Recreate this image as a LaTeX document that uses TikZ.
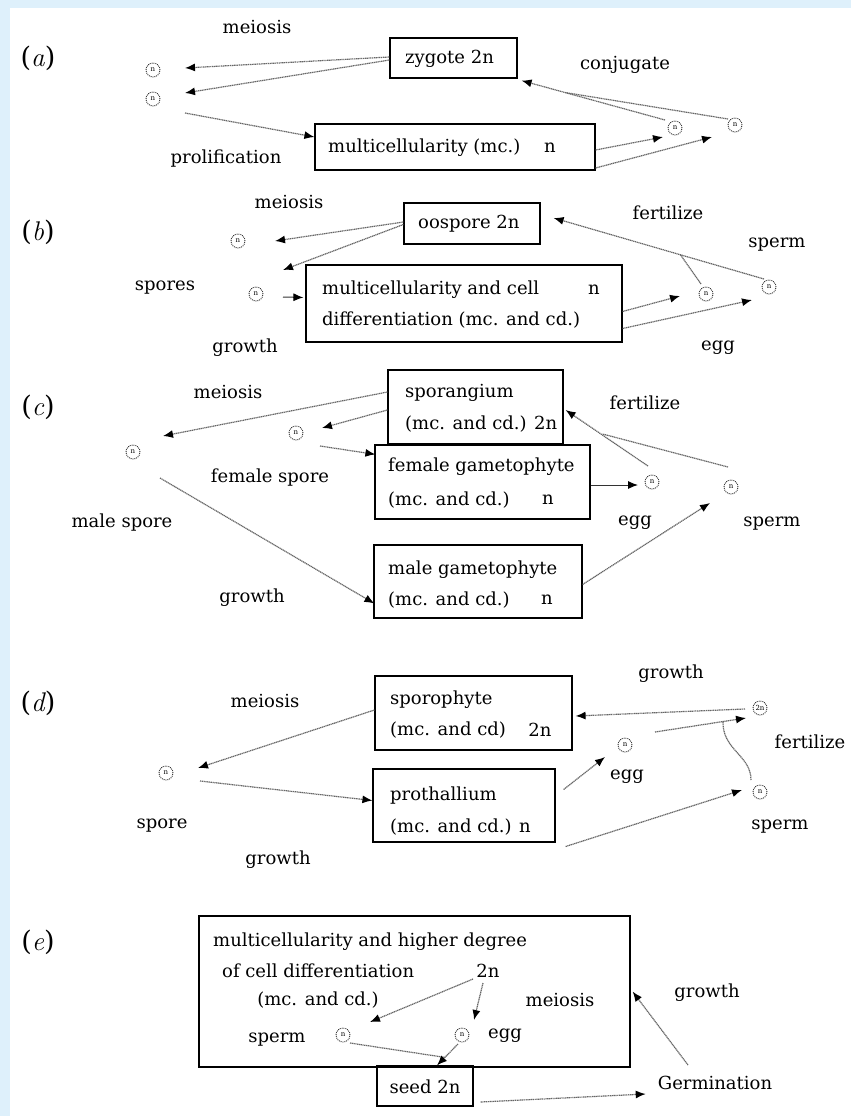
\documentclass[tikz,border=0pt]{standalone}
\usepackage{fontspec}
\setmainfont{DejaVu Serif}
\usetikzlibrary{arrows.meta,calc}
\definecolor{band}{RGB}{222,240,251}
\newcommand{\labit}[1]{{\fontfamily{lmr}\selectfont\itshape #1}}
\begin{document}
\begin{tikzpicture}[x=1pt,y=-1pt,
  lab/.style={font=\fontsize{18}{20}\selectfont, inner sep=0pt},
  sec/.style={font=\fontsize{27}{29}\selectfont, inner sep=0pt},
  box/.style={draw, line width=1.2pt, inner sep=0pt},
  cell/.style={circle, draw=black!85, densely dotted, line width=0.9pt, minimum size=14pt, inner sep=0pt, font=\fontsize{7}{7}\selectfont},
  conn/.style={line width=1.2pt, dash pattern=on 1.2pt off 0.6pt, draw=black!60},
  arr/.style={conn, -{Latex[length=10pt,width=8pt,color=black]}},
  solidarr/.style={line width=1pt, draw=black!80, -{Latex[length=10pt,width=8pt,color=black]}}]
\useasboundingbox (0,0) rectangle (851,1116);
\fill[white] (0,0) rectangle (851,1116);
\fill[band] (0,0) rectangle (851,8);
\fill[band] (0,0) rectangle (10,1116);

% ---------------- (a)
\node[sec] (la) at (38,58) {(\labit{a})};
\node[lab] (ma) at (257,27) {meiosis};
\node[box, minimum width=127pt, minimum height=40pt] (zyg) at (453.5,58) {};
\node[lab, anchor=west] (tzyg) at (405,59) {zygote 2n};
\node[lab] (conj) at (625,65) {conjugate};
\node[lab] (prol) at (226,159) {prolification};
\node[box, minimum width=280pt, minimum height=46pt] (mca) at (455,147) {};
\node[lab, anchor=west] (tmca) at (328,148) {multicellularity (mc.)};
\node[lab] (tmcan) at (550,148) {n};
\node[cell] (ca1) at (153,70) {n};
\node[cell] (ca2) at (153,99) {n};
\node[cell] (ca3) at (675,128) {n};
\node[cell] (ca4) at (735,125) {n};
\draw[arr] ([shift={(0,-1)}]zyg.west) -- ([shift={(32,-2)}]ca1.center);
\draw[arr] ([shift={(0,2)}]zyg.west) -- ([shift={(32,-6)}]ca2.center);
\draw[arr] ([shift={(32,14)}]ca2.center) -- ([shift={(0,-10)}]mca.west);
\draw[arr] ([shift={(0,3)}]mca.east) -- ([shift={(-12,9)}]ca3.center);
\draw[arr] ([shift={(0,21)}]mca.east) -- ([shift={(-23,12)}]ca4.center);
\draw[arr] ([shift={(-10,-8)}]ca3.center) -- ([shift={(4,2)}]zyg.south east);
\draw[conn] ([shift={(-7,-6)}]ca4.center) -- ([shift={(48,14)}]zyg.south east);

% ---------------- (b)
\node[sec] (lb) at (38,232) {(\labit{b})};
\node[lab] (mb) at (289,202) {meiosis};
\node[box, minimum width=136pt, minimum height=41pt] (oos) at (472,223.5) {};
\node[lab, anchor=west] (toos) at (418,224) {oospore 2n};
\node[lab] (fb) at (668,213) {fertilize};
\node[lab] (sb) at (777,245) {sperm};
\node[lab] (spb) at (165,288) {spores};
\node[lab] (gb) at (245,348) {growth};
\node[lab] (eb) at (718,348) {egg};
\node[box, minimum width=316pt, minimum height=77pt] (mcb) at (464,303.5) {};
\node[lab, anchor=west] (tmcb1) at (322,290) {multicellularity and cell};
\node[lab] (tmcbn) at (594,290) {n};
\node[lab, anchor=west] (tmcb2) at (322,320) {differentiation (mc. and cd.)};
\node[cell] (cb1) at (238,241) {n};
\node[cell] (cb2) at (256,294) {n};
\node[cell] (cb3) at (706,294) {n};
\node[cell] (cb4) at (769,287) {n};
\draw[arr] ([shift={(0,-1.5)}]oos.west) -- ([shift={(37,0)}]cb1.center);
\draw[arr] ([shift={(0,1)}]oos.west) -- ([shift={(27,-24)}]cb2.center);
\draw[solidarr] ([shift={(27,3)}]cb2.center) -- ([shift={(-2,-6)}]mcb.west);
\draw[arr] ([shift={(0,8)}]mcb.east) -- ([shift={(-26,2)}]cb3.center);
\draw[arr] ([shift={(0,25)}]mcb.east) -- ([shift={(-17,13)}]cb4.center);
\draw[arr] ([shift={(-5,-8)}]cb4.center) -- ([shift={(13,-5.5)}]oos.east);
\draw[conn] ([shift={(-5,-10)}]cb3.center) -- ([shift={(140,31.5)}]oos.east);

% ---------------- (c)
\node[sec] (lc) at (38,407) {(\labit{c})};
\node[lab] (mc) at (228,392) {meiosis};
\node[box, minimum width=175pt, minimum height=74pt] (spor) at (475.5,407) {};
\node[lab, anchor=west] (tspor1) at (405,393) {sporangium};
\node[lab, anchor=west] (tspor2) at (405,424) {(mc. and cd.) 2n};
\node[box, fill=white, minimum width=215pt, minimum height=74pt] (fem) at (482.5,482) {};
\node[lab, anchor=west] (tfem1) at (388,467) {female gametophyte};
\node[lab, anchor=west] (tfem2) at (388,500) {(mc. and cd.)};
\node[lab] (tfemn) at (548,500) {n};
\node[box, minimum width=208pt, minimum height=73pt] (male) at (478,581.5) {};
\node[lab, anchor=west] (tmale1) at (388,570) {male gametophyte};
\node[lab, anchor=west] (tmale2) at (388,600) {(mc. and cd.)};
\node[lab] (tmalen) at (547,600) {n};
\node[lab] (fc) at (645,403) {fertilize};
\node[lab] (fsp) at (270,478) {female spore};
\node[lab] (msp) at (122,523) {male spore};
\node[lab] (ec) at (635,523) {egg};
\node[lab] (sc) at (772,524) {sperm};
\node[lab] (gc) at (252,598) {growth};
\node[cell] (cc1) at (133,452) {n};
\node[cell] (cc2) at (296,433) {n};
\node[cell] (cc3) at (652,482) {n};
\node[cell] (cc4) at (731,487) {n};
\draw[arr] ([shift={(0,-15)}]spor.west) -- ([shift={(30,-16)}]cc1.center);
\draw[arr] ([shift={(0,3)}]spor.west) -- ([shift={(26,-5)}]cc2.center);
\draw[arr] ([shift={(24,13)}]cc2.center) -- ([shift={(1,10)}]fem.north west);
\draw[solidarr] ([shift={(0,3)}]fem.east) -- ([shift={(-14,3)}]cc3.center);
\draw[arr] ([shift={(-4,-16)}]cc3.center) -- ([shift={(2,3)}]spor.east);
\draw[conn] ([shift={(-3,-20)}]cc4.center) -- ([shift={(39,27)}]spor.east);
\draw[arr] ([shift={(27,26)}]cc1.center) -- ([shift={(1,22)}]male.west);
\draw[arr] ([shift={(0,3)}]male.east) -- ([shift={(-21,16)}]cc4.center);

% ---------------- (d)
\node[sec] (ld) at (38,703) {(\labit{d})};
\node[lab] (md) at (265,701) {meiosis};
\node[box, minimum width=197pt, minimum height=74pt] (sph) at (473.5,713) {};
\node[lab, anchor=west] (tsph1) at (390,700) {sporophyte};
\node[lab, anchor=west] (tsph2) at (390,730) {(mc. and cd)};
\node[lab] (tsphn) at (540,730) {2n};
\node[box, minimum width=182pt, minimum height=73pt] (pro) at (464,805.5) {};
\node[lab, anchor=west] (tpro1) at (390,796) {prothallium};
\node[lab, anchor=west] (tpro2) at (390,827) {(mc. and cd.) n};
\node[lab] (gd1) at (671,674) {growth};
\node[lab] (fd) at (810,742) {fertilize};
\node[lab] (ed) at (627,777) {egg};
\node[lab] (sd) at (780,827) {sperm};
\node[lab] (spd) at (162,826) {spore};
\node[lab] (gd2) at (278,860) {growth};
\node[cell] (cd1) at (760,708) {2n};
\node[cell] (cd2) at (625,745) {n};
\node[cell] (cd3) at (760,792) {n};
\node[cell] (cd4) at (166,773) {n};
\draw[arr] ([shift={(-15,1)}]cd1.center) -- ([shift={(3,3)}]sph.east);
\draw[arr] ([shift={(0,-3)}]sph.west) -- ([shift={(32,-5)}]cd4.center);
\draw[arr] ([shift={(34,8)}]cd4.center) -- ([shift={(0,-5)}]pro.west);
\draw[arr] ([shift={(8,-16)}]pro.east) -- ([shift={(-20,12)}]cd2.center);
\draw[arr] ([shift={(10,41)}]pro.east) -- ([shift={(-18,-2)}]cd3.center);
\draw[arr] ([shift={(30,-13)}]cd2.center) -- ([shift={(-14,10)}]cd1.center);
\draw[conn] ([shift={(-9,-12)}]cd3.center) .. controls ([shift={(-9,-37)}]cd3.center) and ([shift={(-38,-42)}]cd3.center) .. ([shift={(-37,-71)}]cd3.center);

% ---------------- (e)
\node[sec] (le) at (38,942) {(\labit{e})};
\node[box, minimum width=431pt, minimum height=151pt] (big) at (414.5,991.5) {};
\node[lab, anchor=west] (tbig1) at (213,942) {multicellularity and higher degree};
\node[lab, anchor=west] (tbig2) at (222,971) {of cell differentiation};
\node[lab] (t2n) at (488,971) {2n};
\node[lab] (tbig3) at (318,1000) {(mc. and cd.)};
\node[lab] (me) at (560,1000) {meiosis};
\node[lab] (se) at (277,1040) {sperm};
\node[lab] (ee) at (505,1036) {egg};
\node[box, minimum width=96pt, minimum height=40pt] (seed) at (425,1086) {};
\node[lab] (tseed) at (425,1087) {seed 2n};
\node[lab] (ge) at (707,993) {growth};
\node[lab] (germ) at (715,1083) {Germination};
\node[cell] (ce1) at (343,1035) {n};
\node[cell] (ce2) at (462,1035) {n};
\draw[arr] ([shift={(-15,8)}]t2n.center) -- ([shift={(27,-13)}]ce1.center);
\draw[arr] ([shift={(-5,12)}]t2n.center) -- ([shift={(12,-15)}]ce2.center);
\draw[conn] ([shift={(7,8)}]ce1.center) -- ([shift={(20,-8)}]seed.north);
\draw[arr] ([shift={(-4,9)}]ce2.center) -- ([shift={(12,0)}]seed.north);
\draw[arr] ([shift={(7,16)}]seed.east) -- ([shift={(-12,11)}]germ.west);
\draw[arr] ([shift={(-27,-18)}]germ.center) -- ([shift={(2,0)}]big.east);
\end{tikzpicture}
\end{document}
